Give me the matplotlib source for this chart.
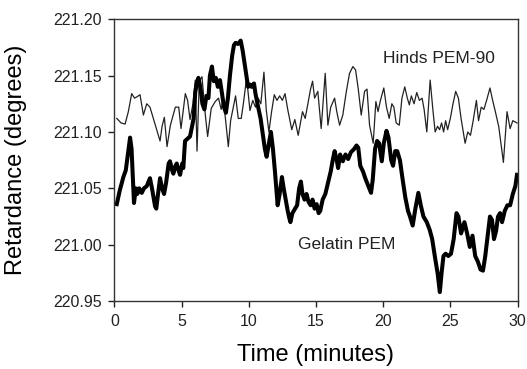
import numpy as np
import matplotlib
matplotlib.use("Agg")
import matplotlib.pyplot as plt
from matplotlib.ticker import FormatStrFormatter

plt.rcParams['font.family'] = ['Liberation Sans', 'DejaVu Sans']

# --- data ---
gel_t = [0.18, 0.40, 0.67, 0.85, 1.04, 1.17, 1.28, 1.46, 1.60, 1.71, 1.85, 2.04, 2.20, 2.41,
         2.65, 2.80, 3.03, 3.12, 3.25, 3.40, 3.55, 3.70, 3.85, 4.04, 4.14, 4.30, 4.39, 4.55,
         4.64, 4.80, 4.89, 5.05, 5.13, 5.26, 5.45, 5.63, 5.78, 5.90, 6.02, 6.13, 6.25, 6.40,
         6.55, 6.70, 6.85, 7.00, 7.11, 7.26, 7.40, 7.55, 7.70, 7.86, 8.00, 8.16, 8.30, 8.45,
         8.60, 8.77, 8.90, 9.02, 9.20, 9.40, 9.55, 9.70, 9.80, 9.95, 10.10, 10.21, 10.39, 10.50,
         10.70, 10.88, 11.05, 11.20, 11.33, 11.50, 11.65, 11.80, 11.95, 12.15, 12.30, 12.47,
         12.60, 12.75, 12.90, 13.01, 13.10, 13.25, 13.45, 13.60, 13.75, 13.88, 14.00, 14.15,
         14.30, 14.45, 14.60, 14.75, 14.90, 15.05, 15.20, 15.32, 15.50, 15.70, 15.90, 16.10,
         16.25, 16.39, 16.55, 16.65, 16.80, 17.00, 17.20, 17.40, 17.60, 17.85, 18.02, 18.15,
         18.30, 18.50, 18.70, 18.90, 19.10, 19.23, 19.40, 19.55, 19.70, 19.90, 20.05, 20.25,
         20.40, 20.60, 20.74, 20.90, 21.05, 21.25, 21.45, 21.65, 21.85, 22.00, 22.20, 22.40,
         22.62, 22.80, 23.00, 23.25, 23.47, 23.65, 23.87, 24.05, 24.22, 24.35, 24.49, 24.65,
         24.85, 25.05, 25.25, 25.46, 25.60, 25.80, 26.05, 26.25, 26.45, 26.65, 26.85, 27.05,
         27.25, 27.43, 27.60, 27.80, 27.95, 28.10, 28.25, 28.40, 28.55, 28.70, 28.85, 29.05,
         29.25, 29.45, 29.65, 29.84, 29.96]
gel_v = [221.036, 221.048, 221.060, 221.066, 221.083, 221.095, 221.085, 221.037, 221.050, 221.045,
         221.050, 221.046, 221.050, 221.052, 221.059, 221.050, 221.034, 221.032, 221.045, 221.059,
         221.050, 221.045, 221.055, 221.072, 221.074, 221.066, 221.063, 221.070, 221.072, 221.065,
         221.062, 221.072, 221.068, 221.092, 221.094, 221.096, 221.105, 221.112, 221.135, 221.143,
         221.148, 221.140, 221.125, 221.120, 221.132, 221.130, 221.150, 221.158, 221.145, 221.148,
         221.140, 221.146, 221.135, 221.122, 221.117, 221.130, 221.150, 221.168, 221.177, 221.179,
         221.178, 221.181, 221.172, 221.160, 221.152, 221.140, 221.142, 221.140, 221.143, 221.134,
         221.122, 221.112, 221.098, 221.085, 221.078, 221.090, 221.100, 221.085, 221.065, 221.035,
         221.045, 221.060, 221.050, 221.040, 221.030, 221.024, 221.020, 221.028, 221.032, 221.035,
         221.050, 221.056, 221.045, 221.040, 221.045, 221.038, 221.035, 221.040, 221.032, 221.036,
         221.028, 221.030, 221.040, 221.045, 221.055, 221.065, 221.075, 221.083, 221.075, 221.068,
         221.080, 221.074, 221.080, 221.076, 221.082, 221.085, 221.088, 221.086, 221.070, 221.065,
         221.058, 221.052, 221.046, 221.058, 221.085, 221.092, 221.090, 221.074, 221.090, 221.101,
         221.095, 221.075, 221.070, 221.083, 221.083, 221.075, 221.058, 221.042, 221.030, 221.025,
         221.017, 221.032, 221.046, 221.035, 221.025, 221.020, 221.013, 221.005, 220.988, 220.975,
         220.958, 220.975, 220.990, 220.992, 220.990, 220.992, 221.005, 221.028, 221.025, 221.010,
         221.020, 221.010, 220.998, 221.008, 220.990, 220.985, 220.978, 220.977, 220.990, 221.010,
         221.025, 221.022, 221.005, 221.012, 221.025, 221.028, 221.020, 221.030, 221.035, 221.035,
         221.045, 221.052, 221.062]

hinds_t = [0.18, 0.50, 0.80, 1.04, 1.29, 1.50, 1.66, 1.91, 2.16, 2.41, 2.65, 3.00, 3.40, 3.55,
           3.72, 3.92, 4.17, 4.54, 4.79, 4.96, 5.28, 5.45, 5.63, 5.85, 6.02, 6.15, 6.32, 6.52,
           6.77, 6.94, 7.21, 7.51, 7.75, 7.95, 8.10, 8.30, 8.48, 8.65, 8.85, 9.02, 9.22, 9.44,
           9.60, 9.84, 10.09, 10.30, 10.50, 10.70, 10.90, 11.13, 11.30, 11.50, 11.70, 11.90,
           12.10, 12.30, 12.50, 12.70, 12.90, 13.20, 13.43, 13.68, 14.00, 14.20, 14.40, 14.60,
           14.75, 14.90, 15.14, 15.39, 15.69, 15.89, 16.10, 16.39, 16.55, 16.76, 17.00, 17.25,
           17.50, 17.75, 17.95, 18.15, 18.37, 18.62, 18.80, 18.99, 19.26, 19.46, 19.62, 19.80,
           20.05, 20.25, 20.45, 20.65, 20.80, 20.97, 21.20, 21.40, 21.61, 21.80, 21.95, 22.10,
           22.30, 22.50, 22.70, 22.90, 23.05, 23.25, 23.50, 23.70, 23.87, 24.05, 24.20, 24.35,
           24.50, 24.65, 24.80, 25.00, 25.20, 25.40, 25.60, 25.80, 26.10, 26.30, 26.50, 26.70,
           26.94, 27.10, 27.30, 27.50, 27.70, 27.95, 28.15, 28.35, 28.60, 28.95, 29.22, 29.45,
           29.65, 29.96]
hinds_v = [221.112, 221.108, 221.107, 221.118, 221.134, 221.130, 221.131, 221.133, 221.115, 221.125,
           221.122, 221.108, 221.092, 221.105, 221.113, 221.087, 221.106, 221.122, 221.122, 221.103,
           221.134, 221.128, 221.111, 221.125, 221.146, 221.083, 221.145, 221.149, 221.115, 221.096,
           221.121, 221.127, 221.130, 221.120, 221.130, 221.108, 221.087, 221.110, 221.122, 221.132,
           221.112, 221.112, 221.125, 221.148, 221.119, 221.128, 221.122, 221.130, 221.125, 221.153,
           221.120, 221.100, 221.118, 221.133, 221.128, 221.132, 221.128, 221.134, 221.120, 221.102,
           221.111, 221.097, 221.118, 221.112, 221.125, 221.138, 221.145, 221.130, 221.136, 221.103,
           221.152, 221.106, 221.122, 221.130, 221.118, 221.106, 221.115, 221.135, 221.152, 221.158,
           221.155, 221.138, 221.115, 221.136, 221.138, 221.106, 221.090, 221.127, 221.118, 221.128,
           221.139, 221.122, 221.112, 221.125, 221.122, 221.108, 221.106, 221.130, 221.140, 221.130,
           221.124, 221.132, 221.125, 221.135, 221.128, 221.130, 221.120, 221.100, 221.146, 221.120,
           221.100, 221.105, 221.102, 221.108, 221.100, 221.110, 221.102, 221.112, 221.125, 221.136,
           221.130, 221.112, 221.090, 221.100, 221.097, 221.110, 221.128, 221.110, 221.122, 221.120,
           221.128, 221.139, 221.128, 221.118, 221.105, 221.073, 221.118, 221.103, 221.110, 221.108]

fig = plt.figure(figsize=(5.27, 3.69), dpi=100)
ax = fig.add_axes([0.217, 0.184, 0.765, 0.764])

ax.plot(hinds_t, hinds_v, color='#222222', lw=0.9)
ax.plot(gel_t, gel_v, color='black', lw=2.9, solid_joinstyle='round')

ax.set_xlim(0, 30)
ax.set_ylim(220.95, 221.20)
ax.set_xticks(np.arange(0, 31, 5))
ax.set_yticks(np.arange(220.95, 221.201, 0.05))
ax.yaxis.set_major_formatter(FormatStrFormatter('%.2f'))
ax.tick_params(direction='out', length=4, width=1, labelsize=11.5, pad=5, colors='#222222')
for s in ax.spines.values():
    s.set_linewidth(1)
    s.set_color('#333333')

ax.set_xlabel('Time (minutes)', fontsize=17, labelpad=11)
ax.set_ylabel('Retardance (degrees)', fontsize=17, labelpad=19)

ax.text(20.0, 221.165, 'Hinds PEM-90', fontsize=12.5, va='center', ha='left', color='#222222')
ax.text(13.7, 221.000, 'Gelatin PEM', fontsize=12.5, va='center', ha='left', color='#222222')

fig.savefig('out.png', dpi=100)
